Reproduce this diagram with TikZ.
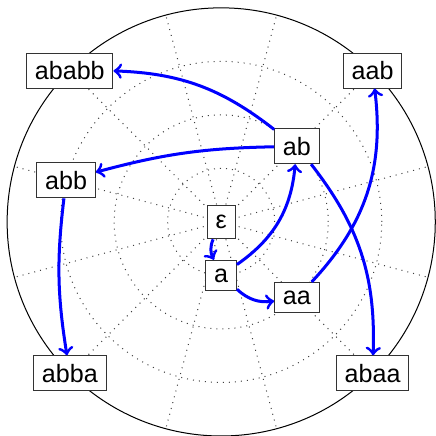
\documentclass[tikz,border=0pt]{standalone}
\usepackage{fontspec}
\setsansfont{Liberation Sans}
\begin{document}
\begin{tikzpicture}[
  polargrid/.style={dotted, black!75, line width=0.4pt},
  state/.style={draw=black!80, fill=white, font=\sffamily, inner sep=3.3pt},
  trans/.style={->, blue, very thick}
]
\useasboundingbox (-3.10,-2.99) rectangle (3.01,3.11);

% polar grid: three inner rings and spokes every 30 degrees
\foreach \r in {0.75,1.5,2.25}
  \draw[polargrid] (0,0) circle (\r);
\foreach \a in {15,45,...,345}
  \draw[polargrid] (0,0) -- (\a:3);
\draw (0,0) circle (3);

% words, placed by depth and angle
\node[state, inner ysep=4pt] (e) at (0,0) {ε};
\node[state] (a)     at (270:0.75) {a};
\node[state] (aa)    at (315:1.5)  {aa};
\node[state] (ab)    at (45:1.5)   {ab};
\node[state] (abb)   at (165:2.25) {abb};
\node[state] (aab)   at (45:3)     {aab};
\node[state] (ababb) at (135:3)    {ababb};
\node[state] (abba)  at (225:3)    {abba};
\node[state] (abaa)  at (315:3)    {abaa};

% transitions
\draw[trans] (e)   to[bend right=25] (a);
\draw[trans] (a)   to[bend right=25] (ab);
\draw[trans] (a)   to[bend right=25] (aa);
\draw[trans] (ab)  to[bend right=18] (ababb);
\draw[trans] (ab)  to[bend right=7]  (abb);
\draw[trans] (ab)  to[bend left=20]  (abaa);
\draw[trans] (aa)  to[bend right=25] (aab);
\draw[trans] (abb) to[bend right=8]  (abba);
\end{tikzpicture}
\end{document}
